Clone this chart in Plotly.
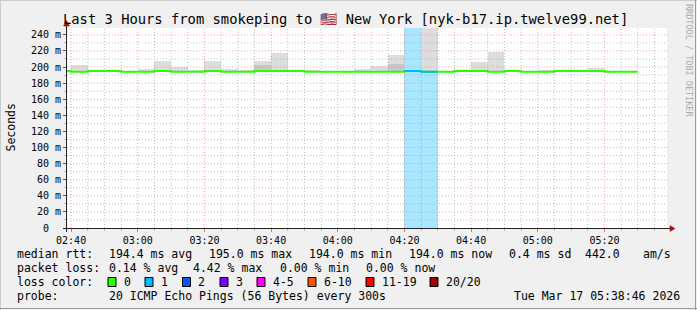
import pandas as pd
import plotly.graph_objects as go

# ---------------- data ----------------
DAY = "2026-03-17"
interval_start = ["02:35", "02:40", "02:45", "02:50", "02:55", "03:00", "03:05", "03:10",
                  "03:15", "03:20", "03:25", "03:30", "03:35", "03:40", "03:45", "03:50",
                  "03:55", "04:00", "04:05", "04:10", "04:15", "04:20", "04:25", "04:30",
                  "04:35", "04:40", "04:45", "04:50", "04:55", "05:00", "05:05", "05:10",
                  "05:15", "05:20", "05:25"]
median_ms = [195, 194, 195, 195, 194, 194, 195, 194, 194, 195, 194, 194, 195, 195, 195, 194,
             194, 194, 194, 194, 194, 195, 194, 194, 195, 195, 194, 195, 194, 194, 195, 195,
             195, 194, 194]
smoke_max_ms = [None, 202.7, None, None, None, 197.7, 208, 199.5, 196.5, 208, 197.7, 196.5,
                208, 218, None, 196, None, None, 197, 201.5, 215, None, 262, None,
                None, 206.8, 219, None, None, 196.5, None, None, 199, None, None]
smoke_dense_ms = [None, None, None, None, None, None, None, None, None, None, None, None,
                  203, None, None, None, None, None, None, None, 204, None, None, None,
                  None, None, None, None, None, None, None, None, None, None, None]
lost_pings = [0] * 21 + [1, 1] + [0] * 12

y_ticks = [0, 20, 40, 60, 80, 100, 120, 140, 160, 180, 200, 220, 240]
y_tick_text = ["0\u00a0\u00a0"] + [f"{v} m" for v in y_ticks[1:]]

title_text = "Last 3 Hours from smokeping to \U0001F1FA\U0001F1F8 New York [nyk-b17.ip.twelve99.net]"
row_rtt = [("median rtt:", 16), ("194.4 ms avg", 107.5), ("195.0 ms max", 207.5),
           ("194.0 ms min", 307.5), ("194.0 ms now", 407.5), ("0.4 ms sd", 507.5),
           ("442.0", 584), ("am/s", 642)]
row_loss = [("packet loss:", 16), ("0.14 % avg", 107.5), ("4.42 % max", 192),
            ("0.00 % min", 279), ("0.00 % now", 365)]
loss_labels = ["0", "1", "2", "3", "4-5", "6-10", "11-19", "20/20"]
loss_colors = ["#26ff00", "#00b8ff", "#0059ff", "#7e00ff", "#ff00ff", "#ff5500", "#ff0000", "#a00000"]
loss_swatch_x = [108, 145, 182.5, 220, 257, 308, 366, 430]
probe_text = "20 ICMP Echo Pings (56 Bytes) every 300s"
stamp_text = "Tue Mar 17 05:38:46 2026"

# ---------------- geometry ----------------
W, H = 697, 310
L, R, T, B = 67, 667, 28, 228
Y_MAX = 248.5
FONT = "DejaVu Sans Mono"


def px(x):
    return (x - L) / (R - L)


def py(y):
    return (B - y) / (B - T)


starts = pd.to_datetime([f"{DAY} {s}" for s in interval_start])
step = pd.Timedelta(minutes=5)
centers = starts + step / 2
ends = starts + step
width_ms = step.total_seconds() * 1000
t_end = pd.Timestamp(f"{DAY} 05:38:46")
t_start = t_end - pd.Timedelta(hours=3)

fig = go.Figure()

# loss background
lb_x = [c for c, n in zip(centers, lost_pings) if n > 0]
lb_c = [loss_colors[n] for n in lost_pings if n > 0]
fig.add_trace(go.Bar(x=lb_x, y=[Y_MAX] * len(lb_x), base=[0] * len(lb_x), width=width_ms,
                     marker=dict(color=lb_c, opacity=0.34, line=dict(width=0)),
                     hoverinfo="skip"))

# smoke (light)
sx, sb, sy = [], [], []
for c, m, mx in zip(centers, median_ms, smoke_max_ms):
    if mx is not None:
        sx.append(c); sb.append(m); sy.append(mx - m)
fig.add_trace(go.Bar(x=sx, y=sy, base=sb, width=width_ms,
                     marker=dict(color="#dddddd", line=dict(width=0)), hoverinfo="skip"))
# smoke (dense)
dx, db, dy = [], [], []
for c, m, mx in zip(centers, median_ms, smoke_dense_ms):
    if mx is not None:
        dx.append(c); db.append(m); dy.append(mx - m)
fig.add_trace(go.Bar(x=dx, y=dy, base=db, width=width_ms,
                     marker=dict(color="#c8c8c8", line=dict(width=0)), hoverinfo="skip"))

# median line (green), then loss-coloured segments
lx = list(starts) + [ends[-1]]
ly = list(median_ms) + [median_ms[-1]]
fig.add_trace(go.Scatter(x=lx, y=ly, mode="lines", line=dict(color=loss_colors[0], width=2, shape="hv"),
                         hoverinfo="skip"))
i = 0
n = len(lost_pings)
while i < n:
    if lost_pings[i] > 0:
        j = i
        while j + 1 < n and lost_pings[j + 1] == lost_pings[i]:
            j += 1
        seg_x = list(starts[i:j + 1]) + [ends[j]]
        seg_y = median_ms[i:j + 1] + [median_ms[j]]
        fig.add_trace(go.Scatter(x=seg_x, y=seg_y, mode="lines",
                                 line=dict(color=loss_colors[lost_pings[i]], width=2, shape="hv"),
                                 hoverinfo="skip"))
        i = j + 1
    else:
        i += 1

shapes = []
# grid on top
DOT = "1px,2px"
MAJ = "rgba(240,110,110,0.6)"
MIN = "rgba(150,150,150,0.6)"
for t in pd.date_range(f"{DAY} 02:40", f"{DAY} 05:35", freq="5min"):
    major = t.minute % 20 == 0
    shapes.append(dict(type="line", xref="x", yref="paper", x0=t, x1=t, y0=0, y1=1, layer="above",
                       line=dict(color=MAJ if major else MIN, width=1, dash=DOT)))
for v in range(10, 250, 10):
    major = v % 20 == 0
    shapes.append(dict(type="line", xref="paper", yref="y", x0=0, x1=1.004 if major else 1, y0=v, y1=v,
                       layer="above", line=dict(color=MAJ if major else MIN, width=1, dash=DOT)))
# axes with arrows
AX = "#222222"
ARROW = "#a01010"
shapes.append(dict(type="line", xref="paper", yref="paper", x0=px(63), x1=px(671), y0=py(228.5), y1=py(228.5),
                   line=dict(color=AX, width=1), layer="above"))
shapes.append(dict(type="line", xref="paper", yref="paper", x0=px(66.5), x1=px(66.5), y0=py(232), y1=py(24),
                   line=dict(color=AX, width=1), layer="above"))
shapes.append(dict(type="path", xref="paper", yref="paper", layer="above",
                   path=f"M {px(670)} {py(225.5)} L {px(675)} {py(228.5)} L {px(670)} {py(231.5)} Z",
                   fillcolor=ARROW, line=dict(color=ARROW, width=0.5)))
shapes.append(dict(type="path", xref="paper", yref="paper", layer="above",
                   path=f"M {px(63.5)} {py(26)} L {px(66.5)} {py(20.5)} L {px(69.5)} {py(26)} Z",
                   fillcolor=ARROW, line=dict(color=ARROW, width=0.5)))
# outer frame
shapes.append(dict(type="line", xref="paper", yref="paper", x0=px(0), x1=px(W), y0=py(0.5), y1=py(0.5),
                   line=dict(color="#cbcbcb", width=1)))
shapes.append(dict(type="line", xref="paper", yref="paper", x0=px(0.5), x1=px(0.5), y0=py(0), y1=py(H),
                   line=dict(color="#cbcbcb", width=1)))
shapes.append(dict(type="line", xref="paper", yref="paper", x0=px(0), x1=px(W), y0=py(H - 1.5), y1=py(H - 1.5),
                   line=dict(color="#999999", width=1)))
shapes.append(dict(type="line", xref="paper", yref="paper", x0=px(W - 1.5), x1=px(W - 1.5), y0=py(0), y1=py(H),
                   line=dict(color="#999999", width=1)))
# loss colour swatches
for sxp, col in zip(loss_swatch_x, loss_colors):
    shapes.append(dict(type="rect", xref="paper", yref="paper", x0=px(sxp), x1=px(sxp + 8),
                       y0=py(277.5), y1=py(286.5), fillcolor=col, line=dict(color="#000000", width=1)))

ann = []


def text(s, x, y, size=11.5, anchor="left", color="#000000", angle=0, yanchor="middle"):
    ann.append(dict(text=s, x=px(x), y=py(y), xref="paper", yref="paper", xanchor=anchor,
                    yanchor=yanchor, showarrow=False, textangle=angle, borderpad=0,
                    font=dict(family=FONT, size=size, color=color)))


text(title_text, 62, 19, size=13.8)
text("Seconds", 10.5, 128, size=11.5, anchor="center", angle=-90)
text("RRDTOOL / TOBI OETIKER", 689, 60, size=8.5, anchor="center", angle=90, color="#aaaaaa")
for s, x in row_rtt:
    text(s, x, 254)
for s, x in row_loss:
    text(s, x, 268)
text("loss color:", 16, 282)
for sxp, lab in zip(loss_swatch_x, loss_labels):
    text(lab, sxp + 14.5, 282)
text("probe:", 16, 296)
text(probe_text, 107.5, 296)
text(stamp_text, 681, 296, anchor="right")

fig.update_layout(
    width=W, height=H, margin=dict(l=L, r=W - R, t=T, b=H - B, pad=0),
    paper_bgcolor="#f0f0f0", plot_bgcolor="#ffffff", showlegend=False,
    barmode="overlay", bargap=0,
    shapes=shapes, annotations=ann,
    xaxis=dict(type="date", range=[t_start, t_end], showgrid=False, zeroline=False, showline=False,
               tickformat="%H:%M", tick0=f"{DAY} 02:40:00", dtick=1200000,
               ticks="outside", ticklen=3, tickcolor="#e07070", tickwidth=1,
               tickfont=dict(family=FONT, size=10, color="#000000"),
               minor=dict(dtick=300000, ticks="outside", ticklen=2, tickcolor="#bbbbbb", showgrid=False)),
    yaxis=dict(range=[0, Y_MAX], showgrid=False, zeroline=False, showline=False,
               tickvals=y_ticks, ticktext=y_tick_text,
               ticks="outside", ticklen=3, tickcolor="#555555", tickwidth=1,
               tickfont=dict(family=FONT, size=10, color="#000000"),
               minor=dict(dtick=10, ticks="outside", ticklen=2, tickcolor="#bbbbbb", showgrid=False)),
)

fig.write_html("out.html")
